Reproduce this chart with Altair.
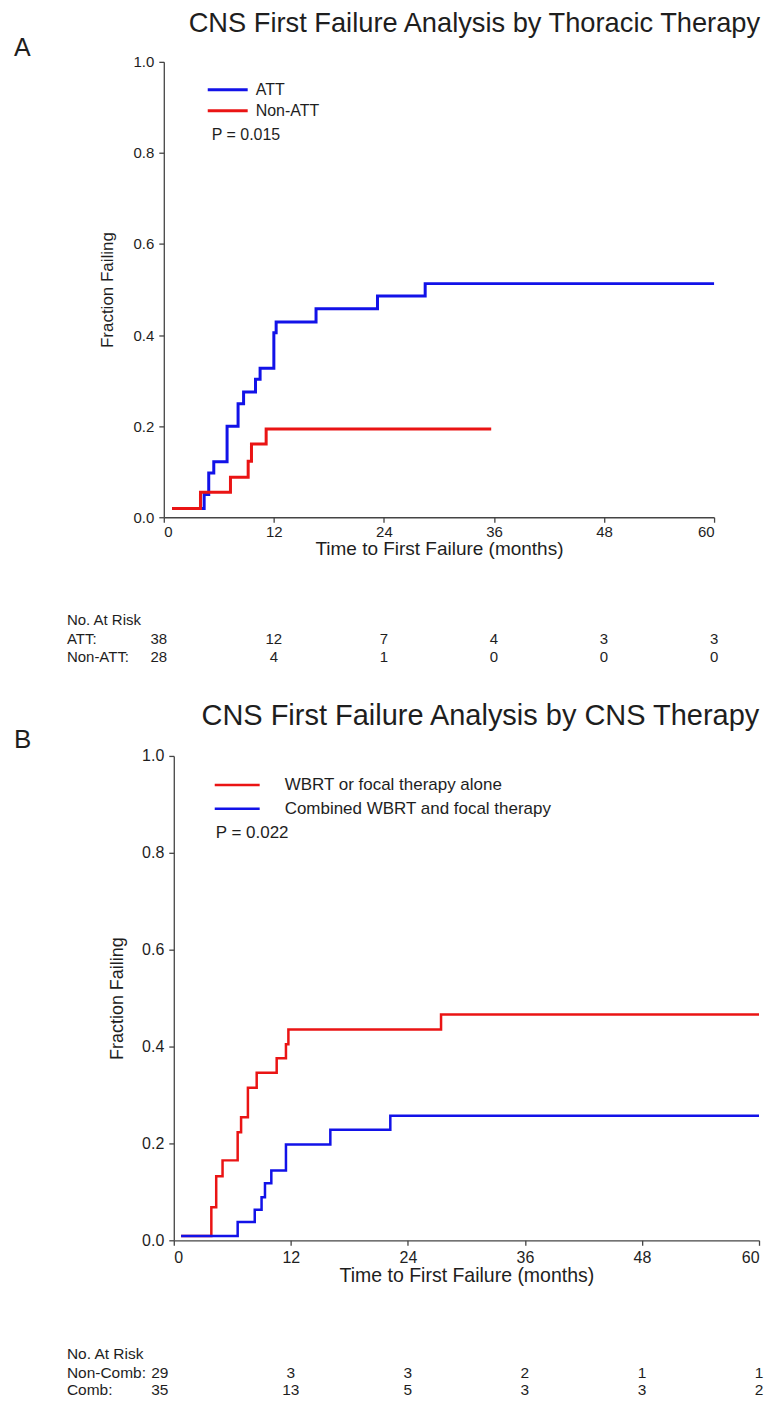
import altair as alt
import pandas as pd

# ---------------- data ----------------
# Panel A: by thoracic therapy
att_t = [0.9, 4.4, 4.9, 5.45, 6.9, 8.1, 8.7, 10.0, 10.5, 12.0, 12.25, 16.6, 23.3, 28.5, 60.0]
att_f = [0.019, 0.050, 0.097, 0.122, 0.200, 0.249, 0.275, 0.303, 0.327, 0.405, 0.429, 0.458, 0.486, 0.513, 0.513]
natt_t = [0.9, 4.0, 7.27, 9.2, 9.56, 11.16, 35.7]
natt_f = [0.019, 0.055, 0.088, 0.123, 0.161, 0.194, 0.194]

# Panel B: by CNS therapy
wbrt_t = [0.75, 3.85, 4.35, 5.0, 6.55, 6.9, 7.6, 8.5, 10.55, 11.5, 11.75, 27.4, 60.0]
wbrt_f = [0.009, 0.068, 0.132, 0.165, 0.223, 0.254, 0.315, 0.346, 0.376, 0.405, 0.435, 0.466, 0.466]
comb_t = [0.75, 6.55, 8.3, 9.0, 9.35, 10.0, 11.5, 16.05, 22.2, 60.0]
comb_f = [0.009, 0.038, 0.063, 0.089, 0.118, 0.144, 0.198, 0.228, 0.257, 0.257]

risk_times = [0, 12, 24, 36, 48, 60]
risk_att = [38, 12, 7, 4, 3, 3]
risk_natt = [28, 4, 1, 0, 0, 0]
risk_noncomb = [29, 3, 3, 2, 1, 1]
risk_comb = [35, 13, 5, 3, 3, 2]

x_ticks = [0, 12, 24, 36, 48, 60]
y_ticks = [0.0, 0.2, 0.4, 0.6, 0.8, 1.0]

FONT = "Liberation Sans"
TXT = "#1e1e1e"
BLUE = "#1212e8"
RED = "#ea1414"


def curves_df(series):
    rows = []
    for name, ts, fs in series:
        for t, f in zip(ts, fs):
            rows.append({"t": t, "f": f, "group": name})
    return pd.DataFrame(rows)


def risk_df(times, values, row):
    return pd.DataFrame({"t": times, "n": [str(v) for v in values], "row": row})


def panel(series, colors, W, H, sw, fs, lay, inset=0):
    """inset shifts the plot frame right inside the view (keeps the two
    panels' left edges where they are in the figure)."""
    one = pd.DataFrame({"_": [0]})
    df = curves_df(series)
    names = [s[0] for s in series]
    xs = alt.Scale(domain=[0, 60], nice=False, range=[inset, W]) if inset else \
        alt.Scale(domain=[0, 60], nice=False)
    x = alt.X("t:Q", scale=xs,
              axis=alt.Axis(values=x_ticks, title="Time to First Failure (months)",
                            labelFontSize=fs["tick"], titleFontSize=fs["xaxis"],
                            labelPadding=lay["xlp"], titlePadding=lay["xtp"], grid=False,
                            titleFontWeight="normal", titleX=(inset + W) / 2))
    yaxis_kw = dict(values=y_ticks, format=".1f", title="Fraction Failing",
                    labelFontSize=fs["tick"], titleFontSize=fs["yaxis"],
                    labelPadding=5, titlePadding=lay["ytp"], grid=False,
                    titleFontWeight="normal")
    if inset:
        yaxis_kw["offset"] = -inset
    y = alt.Y("f:Q", scale=alt.Scale(domain=[0, 1], nice=False), axis=alt.Axis(**yaxis_kw))
    lines = alt.Chart(df).mark_line(interpolate="step-after", strokeWidth=sw).encode(
        x=x, y=y,
        color=alt.Color("group:N", scale=alt.Scale(domain=names, range=colors), legend=None),
    )
    layers = [lines]

    def txt(s, px, py, size, align="left"):
        return alt.Chart(one).mark_text(font=FONT, fontSize=size, color=TXT, align=align,
                                        baseline="middle").encode(
            x=alt.value(px + inset), y=alt.value(py), text=alt.value(s))

    # title and panel letter
    layers.append(txt(lay["title"], lay["title_x"], lay["title_y"], fs["title"], "center"))
    layers.append(txt(lay["letter"], lay["letter_x"], lay["letter_y"], fs["letter"]))
    # legend
    for i, (name, col) in enumerate(zip(names, colors)):
        yy = lay["leg_y"][i]
        layers.append(alt.Chart(one).mark_rule(strokeWidth=sw, color=col).encode(
            x=alt.value(lay["leg_x1"] + inset), x2=alt.value(lay["leg_x2"] + inset),
            y=alt.value(yy)))
        layers.append(txt(name, lay["leg_tx"], yy, fs["legend"]))
    layers.append(txt(lay["p"], lay["p_x"], lay["p_y"], fs["legend"]))
    # risk table
    layers.append(txt("No. At Risk", lay["risk_lx"], H + lay["risk_y"][0], fs["risk"]))
    for j, (label, vals) in enumerate(lay["risk_rows"]):
        yy = H + lay["risk_y"][j + 1]
        layers.append(txt(label, lay["risk_lx"], yy, fs["risk"]))
        rd = risk_df(risk_times, vals, label)
        first = alt.Chart(rd).transform_filter("datum.t == 0").mark_text(
            font=FONT, fontSize=fs["risk"], color=TXT, baseline="middle", dx=lay["first_dx"]).encode(
            x=alt.X("t:Q"), y=alt.value(yy), text="n:N")
        rest = alt.Chart(rd).transform_filter("datum.t > 0").mark_text(
            font=FONT, fontSize=fs["risk"], color=TXT, baseline="middle").encode(
            x=alt.X("t:Q"), y=alt.value(yy), text="n:N")
        layers += [first, rest]
    return alt.layer(*layers).properties(width=W, height=H)


fsA = {"tick": 15, "xaxis": 19, "yaxis": 17, "title": 27.3, "letter": 25, "legend": 16, "risk": 15}
layA = {
    "title": "CNS First Failure Analysis by Thoracic Therapy", "title_x": 311, "title_y": -38,
    "letter": "A", "letter_x": -150, "letter_y": -14,
    "leg_x1": 44, "leg_x2": 84, "leg_tx": 92, "leg_y": [28, 49],
    "p": "P = 0.015", "p_x": 48, "p_y": 73,
    "risk_lx": -97, "risk_y": [103, 122, 140], "first_dx": -5,
    "risk_rows": [("ATT:", risk_att), ("Non-ATT:", risk_natt)],
    "xlp": 2, "xtp": 0, "ytp": 17,
}
pA = panel([("ATT", att_t, att_f), ("Non-ATT", natt_t, natt_f)], [BLUE, RED],
           551, 456, 3, fsA, layA)

fsB = {"tick": 16, "xaxis": 19.5, "yaxis": 18, "title": 29, "letter": 26, "legend": 17, "risk": 15.5}
layB = {
    "title": "CNS First Failure Analysis by CNS Therapy", "title_x": 307, "title_y": -40,
    "letter": "B", "letter_x": -160, "letter_y": -16,
    "leg_x1": 41, "leg_x2": 86, "leg_tx": 111, "leg_y": [29, 53],
    "p": "P = 0.022", "p_x": 42, "p_y": 77,
    "risk_lx": -107, "risk_y": [114, 133, 150], "first_dx": -14,
    "risk_rows": [("Non-Comb:", risk_noncomb), ("Comb:", risk_comb)],
    "xlp": 4, "xtp": 1, "ytp": 15,
}
pB = panel([("WBRT or focal therapy alone", wbrt_t, wbrt_f),
            ("Combined WBRT and focal therapy", comb_t, comb_f)], [RED, BLUE],
           596, 485, 2.5, fsB, layB, inset=10)

chart = alt.vconcat(pA, pB, spacing=37).resolve_scale(
    color="independent", x="independent", y="independent"
).properties(
    padding={"left": 6, "top": 1, "right": 5, "bottom": 2},
    background="white",
).configure_view(stroke=None).configure_axis(
    grid=False, domainColor="#444", domainWidth=1.3, tickColor="#444", tickWidth=1.3,
    tickSize=5, labelFont=FONT, titleFont=FONT, labelColor=TXT, titleColor=TXT,
    titleFontWeight="normal",
)

chart.save("out.html", embed_options={"renderer": "svg", "actions": False})
